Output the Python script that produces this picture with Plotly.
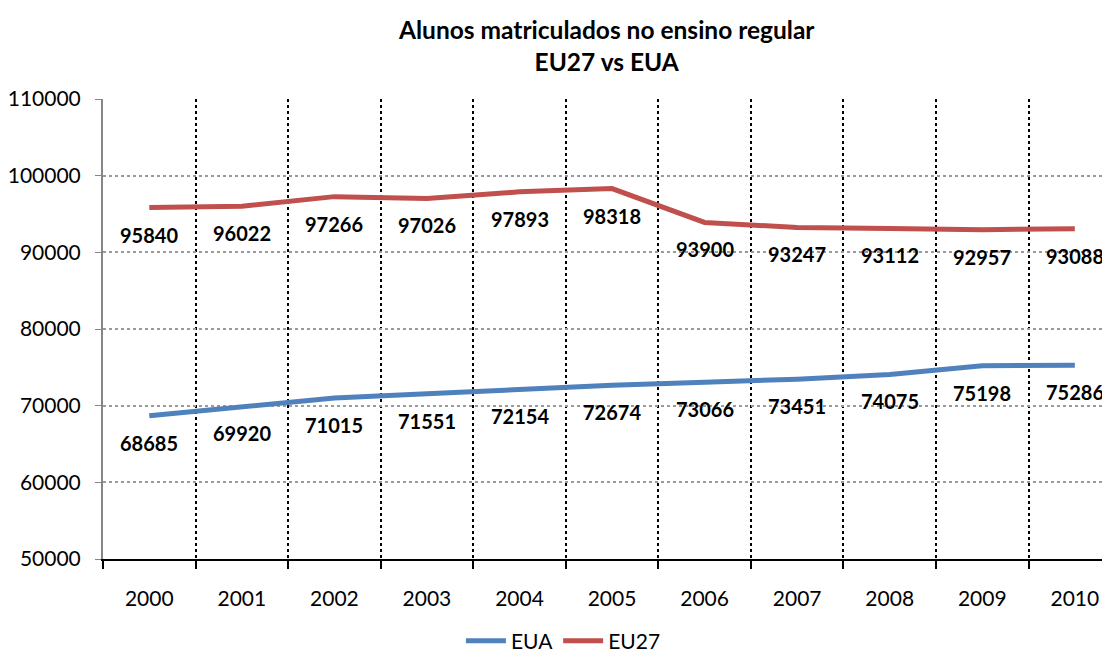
import plotly.graph_objects as go

anos = ["2000", "2001", "2002", "2003", "2004", "2005", "2006", "2007", "2008", "2009", "2010"]
eua = [68685, 69920, 71015, 71551, 72154, 72674, 73066, 73451, 74075, 75198, 75286]
eu27 = [95840, 96022, 97266, 97026, 97893, 98318, 93900, 93247, 93112, 92957, 93088]

fonte = "Lato"

fig = go.Figure()
fig.add_trace(go.Scatter(x=anos, y=eua, name="EUA", mode="lines",
                         line=dict(color="#4F81BD", width=5)))
fig.add_trace(go.Scatter(x=anos, y=eu27, name="EU27", mode="lines",
                         line=dict(color="#C0504D", width=5)))

# rotulos de dados abaixo das linhas (x pelo indice da categoria)
for serie in (eua, eu27):
    for i, v in enumerate(serie):
        fig.add_annotation(x=i, y=v, text=str(v), showarrow=False, yshift=-27,
                           font=dict(family=fonte, size=20, color="black", weight="bold"))

fig.add_annotation(text="<b>Alunos matriculados no ensino regular<br>EU27 vs EUA</b>",
                   x=0.5, xref="paper", xanchor="center",
                   y=1.117, yref="paper", yanchor="middle", showarrow=False,
                   font=dict(family=fonte, size=24.5, color="black"))

fig.update_layout(
    width=1102, height=646,
    margin=dict(l=95, r=0, t=91, b=95),
    paper_bgcolor="white", plot_bgcolor="white",
    font=dict(family=fonte, size=21, color="black"),
    legend=dict(orientation="h", x=0.504, xref="container", xanchor="center",
                y=0.02, yref="container", yanchor="middle",
                font=dict(family=fonte, size=21), itemwidth=40),
    showlegend=True,
)
fig.update_xaxes(type="category", tickson="boundaries", range=[-0.5, 10.38],
                 showline=True, linecolor="black", linewidth=2,
                 ticks="outside", ticklen=8, tickcolor="black", tickwidth=1.5,
                 showgrid=True, gridcolor="black", griddash="dot", gridwidth=1.5,
                 ticklabelstandoff=20, tickfont=dict(size=21))
fig.update_yaxes(range=[50000, 110000], dtick=10000, tickformat="d",
                 showline=True, linecolor="#868686", linewidth=2,
                 ticks="outside", ticklen=6, tickcolor="#868686",
                 showgrid=True, gridcolor="#9A9A9A", griddash="dot", gridwidth=1.5,
                 zeroline=False, ticklabelstandoff=10, tickfont=dict(size=21))

fig.write_html("out.html")
